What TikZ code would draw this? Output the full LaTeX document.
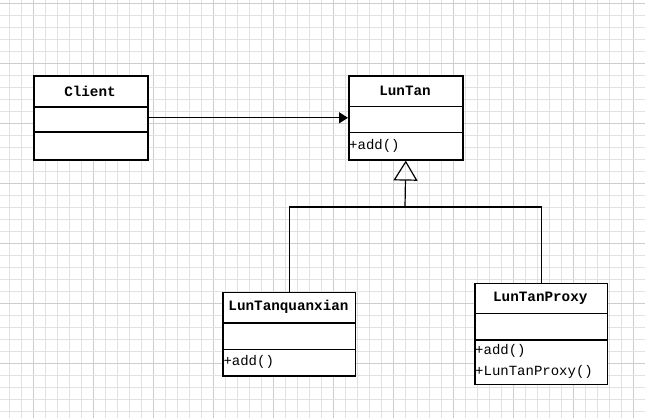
\documentclass[tikz,border=0pt]{standalone}
\usepackage{fontspec}
\setmonofont{Liberation Mono}
\usetikzlibrary{arrows.meta}
\definecolor{gridlight}{HTML}{E2E2E2}
\definecolor{griddark}{HTML}{CDCDCD}
\tikzset{
  classbox/.style={draw=black, line width=1.6pt, fill=white, inner sep=0pt, anchor=north west},
  divider/.style={draw=black, line width=1.6pt},
  cname/.style={font=\fontsize{14.3pt}{16pt}\selectfont\ttfamily\bfseries, inner sep=0pt},
  cmeth/.style={font=\fontsize{14pt}{16pt}\selectfont\ttfamily, inner sep=0pt, anchor=west},
  conn/.style={draw=black, line width=1.2pt},
}
\begin{document}
\begin{tikzpicture}[x=1pt,y=-1pt]
\useasboundingbox (0,0) rectangle (645,418);
\fill[white] (0,0) rectangle (645,418);
% grid
\foreach \k in {0,...,52} {
  \pgfmathsetmacro{\gx}{9.3+12*\k}
  \pgfmathtruncatemacro{\m}{mod(\k,5)}
  \ifnum\m=2
    \draw[griddark, line width=0.9pt] (\gx,0) -- (\gx,418);
  \else
    \draw[gridlight, line width=0.9pt] (\gx,0) -- (\gx,418);
  \fi
}
\foreach \k in {0,...,34} {
  \pgfmathsetmacro{\gy}{3.3+12*\k}
  \pgfmathtruncatemacro{\m}{mod(\k,5)}
  \ifnum\m=0
    \draw[griddark, line width=0.9pt] (0,\gy) -- (645,\gy);
  \else
    \draw[gridlight, line width=0.9pt] (0,\gy) -- (645,\gy);
  \fi
}
% Client
\node[classbox, minimum width=114pt, minimum height=84pt] (client) at (33,75) {};
\draw[divider] (33,107) -- (147,107);
\draw[divider] (33,132) -- (147,132);
\node[cname] (clientname) at (90,91) {Client};
% LunTan
\node[classbox, minimum width=114pt, minimum height=84pt] (luntan) at (348,75) {};
\draw[divider] (348,106.5) -- (462,106.5);
\draw[divider] (348,132.3) -- (462,132.3);
\node[cname] (luntanname) at (405,91) {LunTan};
\node[cmeth] (luntanadd) at (349,145.5) {+add()};
% LunTanquanxian
\node[classbox, minimum width=132.4pt, minimum height=83.3pt] (quan) at (222.3,291.7) {};
\draw[divider] (222.3,322.7) -- (354.7,322.7);
\draw[divider] (222.3,349.3) -- (354.7,349.3);
\node[cname] (quanname) at (288.5,307.2) {LunTanquanxian};
\node[cmeth] (quanadd) at (223.3,362) {+add()};
% LunTanProxy
\node[classbox, minimum width=132.7pt, minimum height=101pt] (proxy) at (474,282.7) {};
\draw[divider] (474,313.3) -- (606.7,313.3);
\draw[divider] (474,340) -- (606.7,340);
\node[cname] (proxyname) at (540.3,298) {LunTanProxy};
\node[cmeth] (proxyadd) at (475,351) {+add()};
\node[cmeth] (proxyctor) at (475,372) {+LunTanProxy()};
% connectors
\draw[conn, -{Triangle[length=9pt,width=11pt]}] (client.east) -- (luntan.west);
\coordinate (join) at (405,207);
\draw[conn] (quan.north) |- (join);
\draw[conn] (proxy.north) |- (join);
\draw[conn, -{Triangle[open,length=20pt,width=24pt]}] (join) -- (luntan.south);
\end{tikzpicture}
\end{document}
